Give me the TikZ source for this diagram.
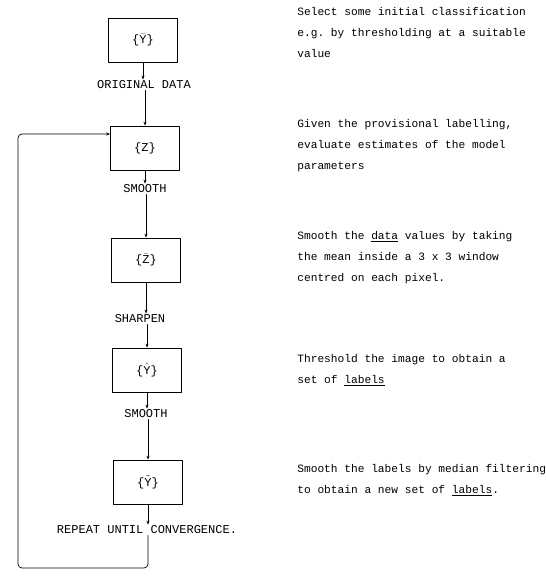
\documentclass[tikz,border=0pt]{standalone}
\usepackage{fontspec}
\setmonofont{Liberation Mono}
\usetikzlibrary{arrows.meta}
\tikzset{
  blok/.style={draw, minimum width=69pt, minimum height=44pt, inner sep=0pt, font=\ttfamily\fontsize{12}{14}\selectfont},
  stap/.style={font=\ttfamily\fontsize{12}{14}\selectfont, inner sep=1pt},
  uitleg/.style={anchor=west, align=left, inner sep=0pt, font=\ttfamily\fontsize{11.2}{21}\selectfont}
}
\begin{document}
\begin{tikzpicture}[x=1pt, y=-1pt, line width=.7pt, line join=round, line cap=round, >={Stealth[length=4pt,width=3pt]}]
                    \useasboundingbox (0,0) rectangle (546,582);
                    % boxes
                    \node[blok] (yb) at (143,40) {\{$\bar{\mathtt{Y}}$\}};
                    \node[blok] (z) at (145,148) {\{$\mathtt{Z}$\}};
                    \node[blok] (zb) at (146,260) {\{$\bar{\mathtt{Z}}$\}};
                    \node[blok] (yh) at (147,370) {\{$\hat{\mathtt{Y}}$\}};
                    \node[blok] (yt) at (148,482) {\{$\tilde{\mathtt{Y}}$\}};
                    % steps
                    \node[stap] (orig) at (144,85) {ORIGINAL DATA};
                    \node[stap] (smootha) at (145,189) {SMOOTH};
                    \node[stap] (sharpen) at (140,319) {SHARPEN};
                    \node[stap] (smoothb) at (146,414) {SMOOTH};
                    \node[stap] (conv) at (147,530) {REPEAT UNTIL CONVERGENCE.};
                    \draw[->] (yb.south) -- (orig.north -| yb.south);
                    \draw[->] (orig.south -| z.north) -- (z.north);
                    \draw[->] (z.south) -- (smootha.north -| z.south);
                    \draw[->] (smootha.south -| zb.north) -- (zb.north);
                    \draw[->] (zb.south) -- (sharpen.north -| zb.south);
                    \draw[->] (sharpen.south -| yh.north) -- (yh.north);
                    \draw[->] (yh.south) -- (smoothb.north -| yh.south);
                    \draw[->] (smoothb.south -| yt.north) -- (yt.north);
                    \draw[->] (yt.south) -- (conv.north -| yt.south);
                    % loop back
                    \coordinate (terug) at (18,568);
                    \draw[->, rounded corners=4pt] (conv.south -| yt.south) |- (terug) |- ([yshift=14pt]z.west);
                    % notes
                    \node[uitleg] (na) at (297,32) {Select some initial classification\\e.g. by thresholding at a suitable\\value};
                    \node[uitleg] (nb) at (297,146) {Given the provisional labelling,\\evaluate estimates of the model\\parameters};
                    \node[uitleg] (nc) at (297,258) {Smooth the \underline{data} values by taking\\the mean inside a 3 x 3 window\\centred on each pixel.};
                    \node[uitleg] (nd) at (297,370) {Threshold the image to obtain a\\set of \underline{labels}};
                    \node[uitleg] (ne) at (297,480) {Smooth the labels by median filtering\\to obtain a new set of \underline{labels}.};
\end{tikzpicture}
\end{document}
